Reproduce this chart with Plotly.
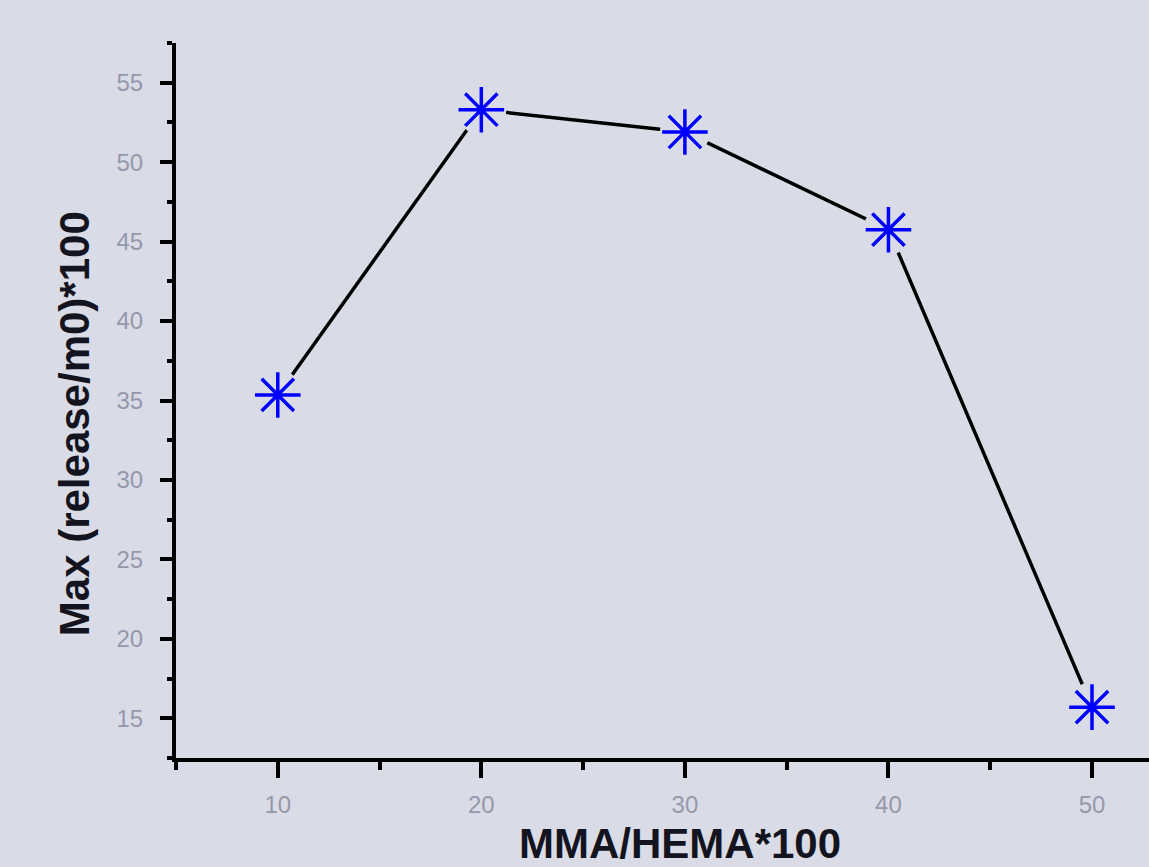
import plotly.graph_objects as go

# MMA/HEMA ratio (x100) and maximum release (release/m0 x100)
ratio = [10, 20, 30, 40, 50]
max_release = [35.35, 53.3, 51.9, 45.75, 15.7]

x_ticks = [10, 20, 30, 40, 50]
y_ticks = [15, 20, 25, 30, 35, 40, 45, 50, 55]

BG = "#d9dce6"

fig = go.Figure()

# connecting line
fig.add_trace(go.Scatter(
    x=ratio, y=max_release, mode="lines",
    line=dict(color="black", width=3.5),
    hoverinfo="skip", showlegend=False,
))
# background discs leave a small gap between the line and each symbol
fig.add_trace(go.Scatter(
    x=ratio, y=max_release, mode="markers",
    marker=dict(symbol="circle", size=50, color=BG, line=dict(width=0)),
    hoverinfo="skip", showlegend=False,
))
# asterisk symbols
fig.add_trace(go.Scatter(
    x=ratio, y=max_release, mode="markers",
    marker=dict(symbol="asterisk-open", size=38, color="#0000ff",
                line=dict(color="#0000ff", width=3.5)),
    showlegend=False,
))

tick_font = dict(family="Liberation Sans, Arial", size=24, color="#9598ab")
title_font = dict(family="Liberation Sans, Arial", size=42, color="#141420")

fig.update_xaxes(
    range=[5, 52.8],
    tickmode="array", tickvals=x_ticks, ticktext=[str(v) for v in x_ticks],
    ticks="outside", ticklen=16, tickwidth=4, tickcolor="black",
    minor=dict(dtick=5, tick0=5, ticks="outside", ticklen=8, tickwidth=4, tickcolor="black"),
    showline=True, linecolor="black", linewidth=4,
    showgrid=False, zeroline=False, automargin=False,
    tickfont=tick_font, ticklabelstandoff=6,
)
fig.update_yaxes(
    range=[12.5, 57.5],
    tickmode="array", tickvals=y_ticks, ticktext=[str(v) for v in y_ticks],
    ticks="outside", ticklen=12, tickwidth=4, tickcolor="black",
    minor=dict(dtick=2.5, tick0=12.5, ticks="outside", ticklen=5, tickwidth=4, tickcolor="black"),
    showline=True, linecolor="black", linewidth=4,
    showgrid=False, zeroline=False, automargin=False,
    tickfont=tick_font, ticklabelstandoff=12,
)

# axis titles
fig.add_annotation(
    text="<b>MMA/HEMA*100</b>", font=title_font, showarrow=False,
    xref="paper", yref="paper", x=0.518, y=-0.119,
    xanchor="center", yanchor="middle",
)
fig.add_annotation(
    text="<b>Max (release/m0)*100</b>", font=title_font, showarrow=False,
    textangle=-90, xref="paper", yref="paper", x=-0.104, y=0.468,
    xanchor="center", yanchor="middle",
)

fig.update_layout(
    width=1149, height=867,
    margin=dict(l=176, r=0, t=43, b=109),
    paper_bgcolor=BG, plot_bgcolor=BG,
)

fig.write_html("out.html")
